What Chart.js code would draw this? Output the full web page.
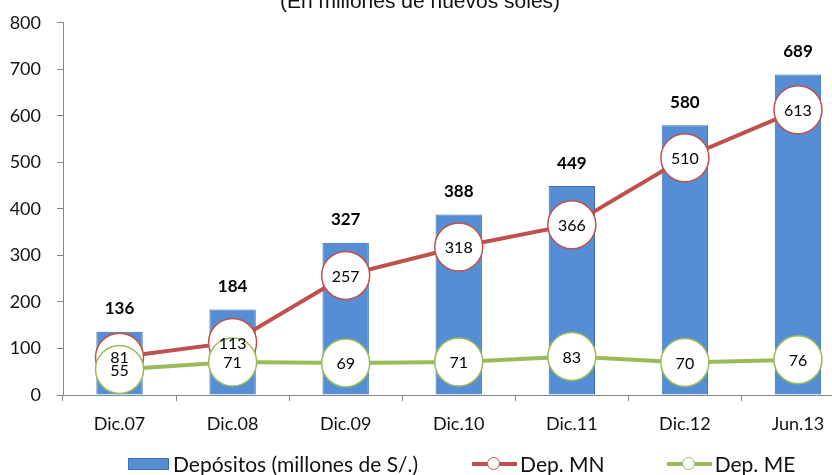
<!DOCTYPE html>
<html lang="es">
<head>
  <meta charset="UTF-8">
  <title>Depósitos</title>
  <script src="https://cdn.jsdelivr.net/npm/chart.js"></script>
  <style>
    body {
      margin: 0;
      width: 832px;
      height: 475px;
      overflow: hidden;
      position: relative;
      background: #fff;
      font-family: Lato, sans-serif;
    }

    .wrap {
      position: absolute;
      left: 0;
      top: -4px;
      width: 880px;
      height: 479px;
    }

    .title {
      position: absolute;
      left: 0;
      width: 840px;
      top: -11px;
      text-align: center;
      font-family: "Liberation Sans Narrow", "Liberation Sans", sans-serif;
      font-size: 21px;
      line-height: 23px;
      color: #111;
    }

    .legend {
      position: absolute;
      left: 128px;
      top: 451px;
      display: flex;
      align-items: center;
      font-size: 21px;
      color: #111;
    }

    .legend .box {
      width: 39px;
      height: 10px;
      background: #558ed5;
      border: 1px solid #3a6cab;
      margin-right: 4px;
    }

    .legend .mark {
      position: relative;
      width: 45px;
      height: 20px;
      margin-right: 3px;
    }

    .legend .mark:before {
      content: "";
      position: absolute;
      left: 0;
      right: 0;
      top: 8px;
      height: 4px;
    }

    .legend .mark span {
      position: absolute;
      left: 15px;
      top: 3px;
      width: 11px;
      height: 11px;
      border-radius: 50%;
      background: #fff;
      border: 1.5px solid;
    }

    .mn:before { background: #c0504d; }
    .mn span { border-color: #c0504d !important; }
    .me:before { background: #9bbb59; }
    .me span { border-color: #9bbb59 !important; }
  </style>
</head>
<body>
  <div class="wrap">
    <canvas id="chart"></canvas>
  </div>
  <div class="title">(En millones de nuevos soles)</div>
  <div class="legend">
    <div class="box"></div>
    <div>Depósitos (millones de S/.)</div>
    <div class="mark mn" style="margin-left:54px"><span></span></div>
    <div>Dep. MN</div>
    <div class="mark me" style="margin-left:62px"><span></span></div>
    <div>Dep. ME</div>
  </div>

<script>
  const labels = ['Dic.07', 'Dic.08', 'Dic.09', 'Dic.10', 'Dic.11', 'Dic.12', 'Jun.13'];
  const depositos = [136, 184, 327, 388, 449, 580, 689];
  const depMN = [81, 113, 257, 318, 366, 510, 613];
  const depME = [55, 71, 69, 71, 83, 70, 76];
  const yTicks = [0, 100, 200, 300, 400, 500, 600, 700, 800];

  const axisColor = '#868686';

  // values written on bars and inside the circles
  const valueLabels = {
    id: 'valueLabels',
    afterDatasetsDraw(chart) {
      const ctx = chart.ctx;
      ctx.save();
      ctx.textAlign = 'center';
      ctx.textBaseline = 'middle';
      ctx.fillStyle = '#000';
      [0, 1, 2].forEach(i => {
        const meta = chart.getDatasetMeta(i);
        const data = chart.data.datasets[i].data;
        meta.data.forEach((el, j) => {
          if (i === 0) {
            ctx.font = 'bold 17px Lato';
            ctx.fillText(data[j], el.x, el.y - 23);
          } else {
            ctx.font = '16px Lato';
            ctx.fillText(data[j], el.x, el.y + 1);
          }
        });
      });
      ctx.restore();
    }
  };

  new Chart(document.getElementById('chart'), {
    type: 'bar',
    data: {
      labels,
      datasets: [
        {
          label: 'Depósitos (millones de S/.)',
          data: depositos,
          backgroundColor: '#558ed5',
          borderColor: '#3a6cab',
          borderWidth: 1,
          categoryPercentage: 1,
          barPercentage: 0.41,
          order: 3
        },
        {
          type: 'line',
          label: 'Dep. MN',
          data: depMN,
          borderColor: '#c0504d',
          borderWidth: 4,
          pointRadius: 24,
          pointBorderWidth: 1.5,
          pointBackgroundColor: '#fff',
          pointBorderColor: '#c0504d',
          order: 2
        },
        {
          type: 'line',
          label: 'Dep. ME',
          data: depME,
          borderColor: '#9bbb59',
          borderWidth: 4,
          pointRadius: 24,
          pointBorderWidth: 1.5,
          pointBackgroundColor: '#fff',
          pointBorderColor: '#9bbb59',
          order: 1
        }
      ]
    },
    options: {
      responsive: true,
      maintainAspectRatio: false,
      animation: false,
      layout: { padding: { top: 19, right: 19, left: 0, bottom: 0 } },
      plugins: {
        legend: { display: false },
        tooltip: { enabled: false }
      },
      scales: {
        x: {
          grid: { drawOnChartArea: false, color: axisColor, tickLength: 6 },
          border: { color: axisColor },
          ticks: { color: '#111', font: { family: 'Lato', size: 18 }, padding: 12 },
          afterFit(scale) { scale.height = 80; }
        },
        y: {
          min: 0,
          max: 800,
          afterBuildTicks(scale) { scale.ticks = yTicks.map(v => ({ value: v })); },
          grid: { drawOnChartArea: false, color: axisColor, tickLength: 6 },
          border: { color: axisColor },
          ticks: { color: '#111', font: { family: 'Lato', size: 18 }, padding: 16 },
          afterFit(scale) { scale.width = 63; }
        }
      }
    },
    plugins: [valueLabels]
  });
</script>
</body>
</html>
